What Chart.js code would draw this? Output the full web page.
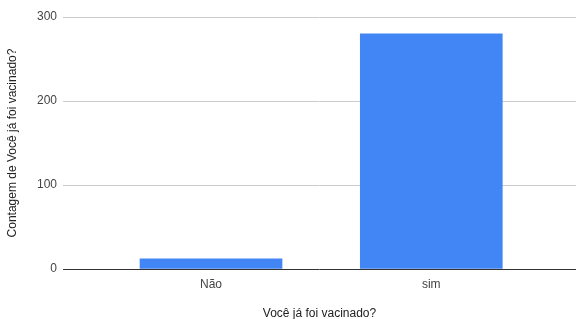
<!DOCTYPE html>
<html><head><meta charset="utf-8">
<script src="https://cdn.jsdelivr.net/npm/chart.js"></script>
<style>html,body{margin:0;padding:0;background:#fff}#w{width:576px;height:319px}</style>
</head><body><div id="w"><canvas id="c"></canvas></div>
<script>
const categories = ['Não', 'sim'];
const counts = [12, 280];
const yTicks = [0, 100, 200, 300];
const xTitle = 'Você já foi vacinado?';
const yTitle = 'Contagem de Você já foi vacinado?';

const points = categories.map((c, i) => ({x: i, y: counts[i]}));

new Chart(document.getElementById('c'), {
  type: 'bar',
  data: { datasets: [{ data: points, backgroundColor: '#4285f4', barThickness: 142 }] },
  options: {
    responsive: true, maintainAspectRatio: false, animation: false,
    layout: { padding: { top: 17, right: 0, left: 0, bottom: 0 } },
    plugins: { legend: { display: false }, tooltip: { enabled: false } },
    scales: {
      x: {
        type: 'linear', min: -0.672, max: 1.657, offset: false,
        afterFit: s => { s.height = 50; },
        grid: { display: false, drawTicks: false, offset: false },
        border: { display: false },
        afterBuildTicks: s => { s.ticks = categories.map((c, i) => ({value: i})); },
        ticks: { padding: 8, color: '#444', font: { family: 'Liberation Sans, Arial', size: 12 },
          callback: (v, i) => categories[i] ?? '' , maxRotation: 0, autoSkip: false },
        title: { display: true, text: xTitle, color: '#222', padding: { top: 0, bottom: -2 },
          font: { family: 'Liberation Sans, Arial', size: 12 } }
      },
      y: {
        min: 0, max: 300,
        afterFit: s => { s.width = 63; },
        afterBuildTicks: s => { s.ticks = yTicks.map(v => ({value: v})); },
        grid: { drawTicks: false, color: c => c.tick && c.tick.value === 0 ? '#333' : '#ccc', lineWidth: 1 },
        border: { display: false },
        ticks: { padding: 6, color: '#444', font: { family: 'Liberation Sans, Arial', size: 12 } },
        title: { display: true, text: yTitle, color: '#222', padding: { top: 5, bottom: 0 },
          font: { family: 'Liberation Sans, Arial', size: 12 } }
      }
    }
  }
});
</script></body></html>
